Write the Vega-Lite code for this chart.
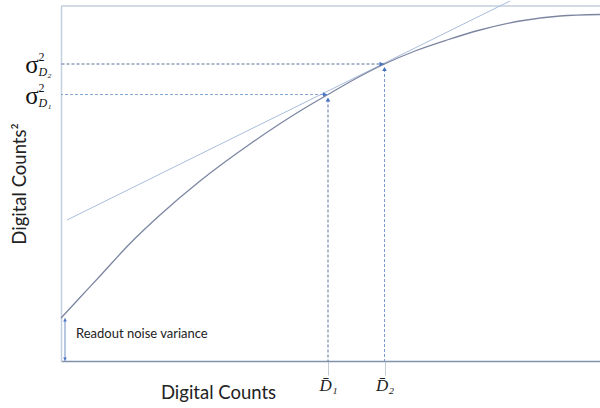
{
  "$schema": "https://vega.github.io/schema/vega-lite/v6.json",
  "width": 539,
  "height": 355,
  "autosize": {"type": "none"},
  "padding": {"left": 61, "top": 6, "right": 0, "bottom": 47},
  "background": "white",
  "config": {
    "view": {"stroke": "transparent"},
    "style": {"cell": {"stroke": "transparent"}},
    "axis": {"domain": false, "ticks": false, "labels": false, "grid": false, "title": null}
  },
  "datasets": {
    "curve": [
      {"counts": 0, "variance": 43},
      {"counts": 19, "variance": 63.5},
      {"counts": 39, "variance": 85},
      {"counts": 69, "variance": 117.5},
      {"counts": 99, "variance": 146},
      {"counts": 139, "variance": 180},
      {"counts": 189, "variance": 217},
      {"counts": 239, "variance": 250},
      {"counts": 267, "variance": 266.5},
      {"counts": 295, "variance": 282.5},
      {"counts": 323.5, "variance": 297},
      {"counts": 354, "variance": 310},
      {"counts": 386, "variance": 321},
      {"counts": 419, "variance": 331},
      {"counts": 459, "variance": 340},
      {"counts": 499, "variance": 345},
      {"counts": 539, "variance": 346.5}
    ],
    "tangent": [
      {"counts": 6, "variance": 141},
      {"counts": 449, "variance": 360}
    ],
    "samples": [
      {"k": "1", "counts": 267, "variance": 266.5, "sub": "D₁"},
      {"k": "2", "counts": 323.5, "variance": 297, "sub": "D₂"}
    ],
    "readout": [
      {"label": "Readout noise variance", "variance": 43}
    ],
    "frame": [
      {"top": 355}
    ]
  },
  "resolve": {"scale": {"color": "independent"}},
  "layer": [
    {
      "data": {"name": "frame"},
      "mark": {"type": "rule", "color": "#c3cfdd", "strokeWidth": 1.5},
      "encoding": {"y": {"field": "top", "type": "quantitative"}}
    },
    {
      "data": {"name": "tangent"},
      "mark": {"type": "line", "color": "#a9bddb", "strokeWidth": 1},
      "encoding": {
        "x": {"field": "counts", "type": "quantitative"},
        "y": {"field": "variance", "type": "quantitative"}
      }
    },
    {
      "data": {"name": "curve"},
      "mark": {"type": "line", "color": "#7c86a0", "strokeWidth": 1.3, "interpolate": "monotone"},
      "encoding": {
        "x": {
          "field": "counts",
          "type": "quantitative",
          "scale": {"domain": [0, 539], "nice": false},
          "axis": {
            "values": [267, 323.5],
            "labels": true,
            "labelExpr": "datum.value < 300 ? 'D̄₁' : 'D̄₂'",
            "labelFont": "Liberation Serif",
            "labelFontStyle": "italic",
            "labelFontSize": 17,
            "labelColor": "#222222",
            "labelPadding": 2,
            "ticks": true,
            "tickSize": 14,
            "tickColor": "#c5ccd6",
            "domain": true,
            "domainColor": "#8193ab",
            "domainWidth": 1.5,
            "grid": false,
            "title": "Digital Counts",
            "titleFont": "Lato",
            "titleFontSize": 18.5,
            "titleFontWeight": "normal",
            "titleColor": "#222222",
            "titleX": 157,
            "titleY": 37,
            "titleAlign": "center",
            "titleBaseline": "alphabetic"
          }
        },
        "y": {
          "field": "variance",
          "type": "quantitative",
          "scale": {"domain": [0, 355], "nice": false},
          "axis": {
            "ticks": false,
            "labels": false,
            "grid": false,
            "domain": true,
            "domainColor": "#c3cfdd",
            "domainWidth": 1.5,
            "title": "Digital Counts²",
            "titleFont": "Lato",
            "titleFontSize": 18.5,
            "titleFontWeight": "normal",
            "titleColor": "#222222",
            "titlePadding": 32
          }
        }
      }
    },
    {
      "data": {"name": "samples"},
      "mark": {"type": "rule", "strokeDash": [3, 2], "strokeWidth": 1},
      "encoding": {
        "x": {"field": "counts", "type": "quantitative"},
        "x2": {"datum": 0},
        "y": {"field": "variance", "type": "quantitative"},
        "color": {"field": "k", "type": "nominal", "scale": {"domain": ["1", "2"], "range": ["#86a6d6", "#56709c"]}, "legend": null}
      }
    },
    {
      "data": {"name": "samples"},
      "mark": {"type": "rule", "strokeDash": [3, 2], "strokeWidth": 1, "yOffset": 5},
      "encoding": {
        "x": {"field": "counts", "type": "quantitative"},
        "y": {"field": "variance", "type": "quantitative"},
        "y2": {"datum": 0},
        "color": {"field": "k", "type": "nominal", "scale": {"domain": ["1", "2"], "range": ["#56709c", "#7b9bd0"]}, "legend": null}
      }
    },
    {
      "data": {"name": "samples"},
      "mark": {"type": "point", "shape": "triangle-right", "filled": true, "size": 22, "color": "#4472c4", "opacity": 1, "xOffset": -3},
      "encoding": {
        "x": {"field": "counts", "type": "quantitative"},
        "y": {"field": "variance", "type": "quantitative"}
      }
    },
    {
      "data": {"name": "samples"},
      "mark": {"type": "point", "shape": "triangle-up", "filled": true, "size": 22, "color": "#4472c4", "opacity": 1, "yOffset": 5},
      "encoding": {
        "x": {"field": "counts", "type": "quantitative"},
        "y": {"field": "variance", "type": "quantitative"}
      }
    },
    {
      "data": {"name": "samples"},
      "mark": {"type": "text", "text": "σ", "font": "Liberation Serif", "fontSize": 25, "align": "center", "baseline": "middle", "dx": -29, "dy": 1, "color": "#111111"},
      "encoding": {
        "x": {"datum": 0, "type": "quantitative"},
        "y": {"field": "variance", "type": "quantitative"}
      }
    },
    {
      "data": {"name": "samples"},
      "mark": {"type": "text", "text": "2", "font": "Liberation Serif", "fontSize": 12, "align": "center", "baseline": "middle", "dx": -19.5, "dy": -7, "color": "#111111"},
      "encoding": {
        "x": {"datum": 0, "type": "quantitative"},
        "y": {"field": "variance", "type": "quantitative"}
      }
    },
    {
      "data": {"name": "samples"},
      "mark": {"type": "text", "font": "Liberation Serif", "fontStyle": "italic", "fontSize": 12, "align": "left", "baseline": "middle", "dx": -22.5, "dy": 8, "color": "#111111"},
      "encoding": {
        "x": {"datum": 0, "type": "quantitative"},
        "y": {"field": "variance", "type": "quantitative"},
        "text": {"field": "sub"}
      }
    },
    {
      "data": {"name": "readout"},
      "mark": {"type": "rule", "color": "#6f8fc5", "strokeWidth": 1, "xOffset": 4},
      "encoding": {
        "x": {"datum": 0, "type": "quantitative"},
        "y": {"field": "variance", "type": "quantitative"},
        "y2": {"datum": 0}
      }
    },
    {
      "data": {"name": "readout"},
      "mark": {"type": "point", "shape": "triangle-up", "filled": true, "size": 14, "color": "#4472c4", "opacity": 1, "xOffset": 4, "yOffset": 2},
      "encoding": {
        "x": {"datum": 0, "type": "quantitative"},
        "y": {"field": "variance", "type": "quantitative"}
      }
    },
    {
      "data": {"name": "readout"},
      "mark": {"type": "point", "shape": "triangle-down", "filled": true, "size": 14, "color": "#4472c4", "opacity": 1, "xOffset": 4, "yOffset": -2},
      "encoding": {
        "x": {"datum": 0, "type": "quantitative"},
        "y": {"datum": 0, "type": "quantitative"}
      }
    },
    {
      "data": {"name": "readout"},
      "mark": {"type": "text", "font": "Lato", "fontSize": 13, "align": "left", "baseline": "alphabetic", "dx": 15, "dy": 0, "color": "#222222"},
      "encoding": {
        "x": {"datum": 0, "type": "quantitative"},
        "y": {"datum": 23, "type": "quantitative"},
        "text": {"field": "label"}
      }
    }
  ]
}
